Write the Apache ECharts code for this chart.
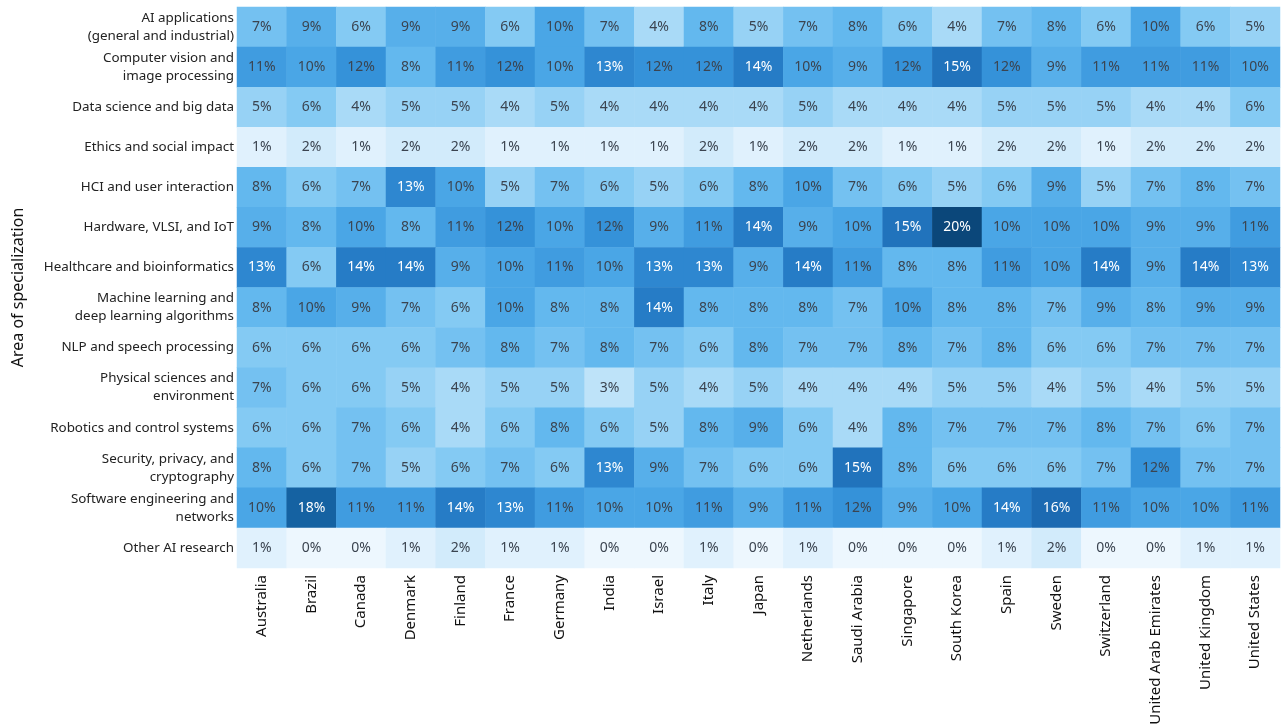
<!DOCTYPE html>
<html>
<head>
<meta charset="utf-8">
<script src="https://cdn.jsdelivr.net/npm/echarts@6/dist/echarts.min.js"></script>
<style>
html,body{margin:0;padding:0;background:#fff;}
#chart{width:1281px;height:725px;}
</style>
</head>
<body>
<div id="chart"></div>
<script>
const countries = ['Australia','Brazil','Canada','Denmark','Finland','France','Germany','India','Israel','Italy','Japan','Netherlands','Saudi Arabia','Singapore','South Korea','Spain','Sweden','Switzerland','United Arab Emirates','United Kingdom','United States'];

const areas = [
  'AI applications\n(general and industrial)',
  'Computer vision and\nimage processing',
  'Data science and big data',
  'Ethics and social impact',
  'HCI and user interaction',
  'Hardware, VLSI, and IoT',
  'Healthcare and bioinformatics',
  'Machine learning and\ndeep learning algorithms',
  'NLP and speech processing',
  'Physical sciences and\nenvironment',
  'Robotics and control systems',
  'Security, privacy, and\ncryptography',
  'Software engineering and\nnetworks',
  'Other AI research'
];

// Percent share per area, one value per country (same order as countries)
const aiApplications   = [7,9,6,9,9,6,10,7,4,8,5,7,8,6,4,7,8,6,10,6,5];
const computerVision   = [11,10,12,8,11,12,10,13,12,12,14,10,9,12,15,12,9,11,11,11,10];
const dataScience      = [5,6,4,5,5,4,5,4,4,4,4,5,4,4,4,5,5,5,4,4,6];
const ethics           = [1,2,1,2,2,1,1,1,1,2,1,2,2,1,1,2,2,1,2,2,2];
const hci              = [8,6,7,13,10,5,7,6,5,6,8,10,7,6,5,6,9,5,7,8,7];
const hardware         = [9,8,10,8,11,12,10,12,9,11,14,9,10,15,20,10,10,10,9,9,11];
const healthcare       = [13,6,14,14,9,10,11,10,13,13,9,14,11,8,8,11,10,14,9,14,13];
const machineLearning  = [8,10,9,7,6,10,8,8,14,8,8,8,7,10,8,8,7,9,8,9,9];
const nlp              = [6,6,6,6,7,8,7,8,7,6,8,7,7,8,7,8,6,6,7,7,7];
const physicalSciences = [7,6,6,5,4,5,5,3,5,4,5,4,4,4,5,5,4,5,4,5,5];
const robotics         = [6,6,7,6,4,6,8,6,5,8,9,6,4,8,7,7,7,8,7,6,7];
const security         = [8,6,7,5,6,7,6,13,9,7,6,6,15,8,6,6,6,7,12,7,7];
const software         = [10,18,11,11,14,13,11,10,10,11,9,11,12,9,10,14,16,11,10,10,11];
const otherResearch    = [1,0,0,1,2,1,1,0,0,1,0,1,0,0,0,1,2,0,0,1,1];

const rows = [aiApplications, computerVision, dataScience, ethics, hci, hardware, healthcare,
  machineLearning, nlp, physicalSciences, robotics, security, software, otherResearch];

const data = [];
rows.forEach((row, yi) => {
  row.forEach((v, xi) => {
    data.push({
      value: [xi, yi, v],
      label: { color: v >= 13 ? '#ffffff' : '#3b4450' }
    });
  });
});

const FONT = '"Noto Sans", "Open Sans", sans-serif';
const chart = echarts.init(document.getElementById('chart'));
chart.setOption({
  animation: false,
  grid: { left: 237, right: 1, top: 7, bottom: 157, outerBoundsMode: 'none', containLabel: false },
  xAxis: {
    type: 'category',
    data: countries,
    position: 'bottom',
    axisLine: { show: false },
    axisTick: { show: false },
    splitArea: { show: false },
    axisLabel: { rotate: 90, interval: 0, margin: 7, color: '#111', fontSize: 15, fontFamily: FONT }
  },
  yAxis: {
    type: 'category',
    data: areas,
    inverse: true,
    axisLine: { show: false },
    axisTick: { show: false },
    name: 'Area of specialization',
    nameLocation: 'middle',
    nameRotate: 90,
    nameGap: 211,
    nameTextStyle: { color: '#111', fontSize: 16, fontFamily: FONT },
    axisLabel: { interval: 0, margin: 3, color: '#222', fontSize: 13.4, lineHeight: 18, fontFamily: FONT, align: 'right' }
  },
  visualMap: {
    show: false,
    type: 'continuous',
    min: 0,
    max: 20,
    inRange: {
      color: ['#edf7fe','#d2ebfb','#a9daf7','#84caf3','#63b8ee','#4aa6e6','#3592d9','#267cc6','#1c6ab2','#1562a2','#0b477a']
    }
  },
  series: [{
    type: 'heatmap',
    data: data,
    label: {
      show: true,
      formatter: p => p.value[2] + '%',
      fontSize: 14,
      fontFamily: FONT
    },
    itemStyle: { borderWidth: 0 },
    emphasis: { disabled: true }
  }]
});
</script>
</body>
</html>
